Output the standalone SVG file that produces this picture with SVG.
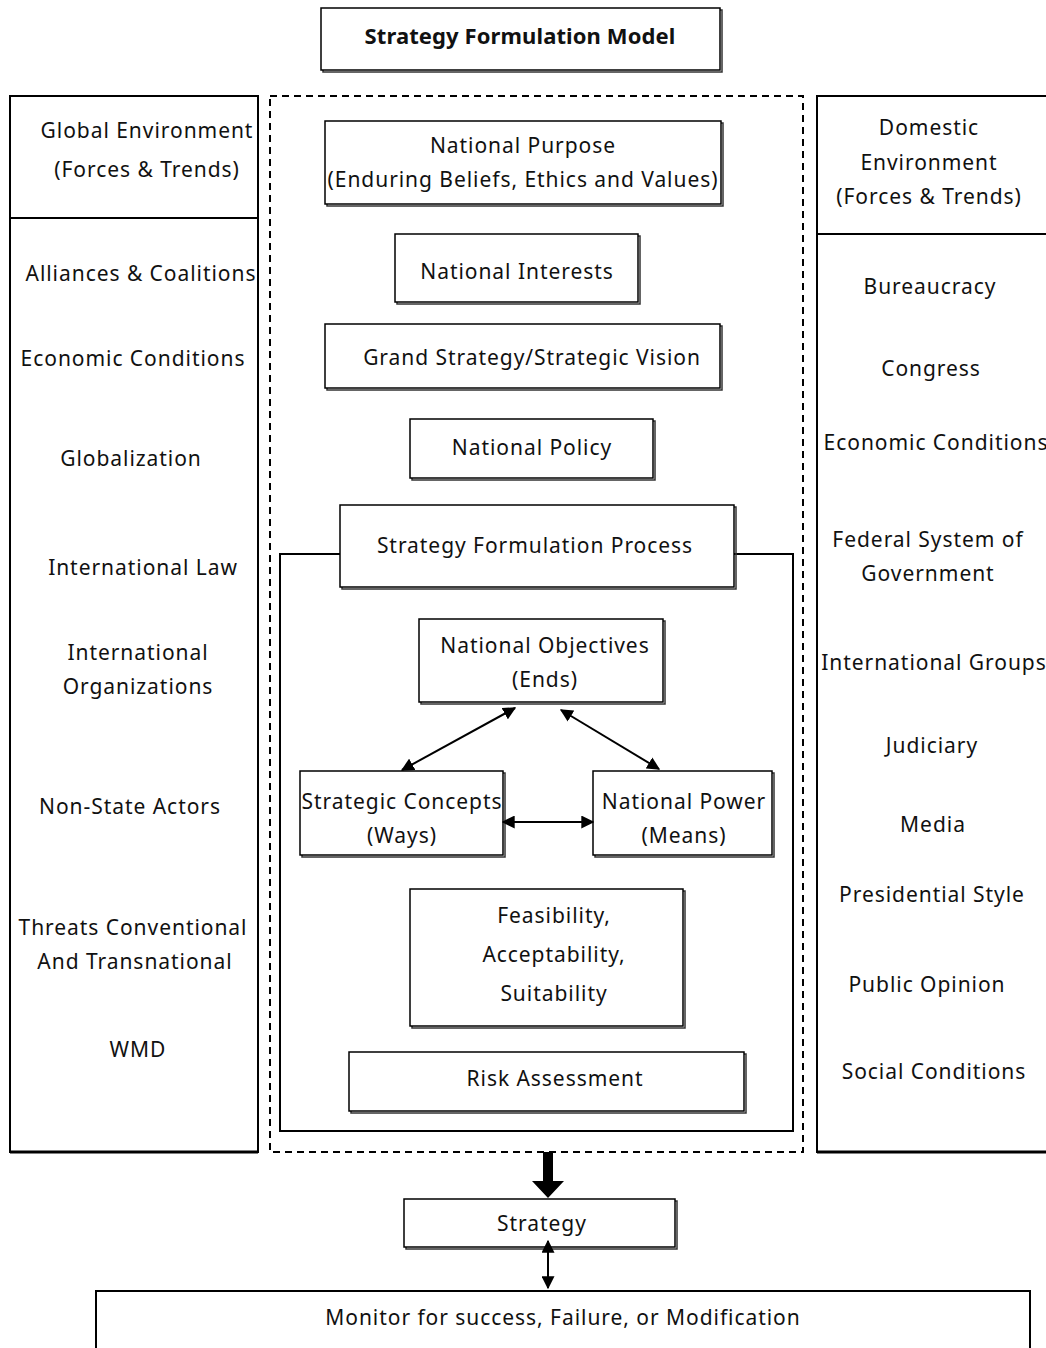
<svg xmlns="http://www.w3.org/2000/svg" width="1046" height="1348" viewBox="0 0 1046 1348">
<style>
text{font-family:"Noto Sans","Open Sans","Liberation Sans",sans-serif;font-size:21px;fill:#111;text-anchor:middle;letter-spacing:0.95px}
.b{fill:#fff;stroke:#000;stroke-width:1.5}
.sh{fill:none;stroke:#333;stroke-width:1.5}
.dash{fill:none;stroke:#000;stroke-width:2;stroke-dasharray:7,5}
.col{fill:#fff;stroke:#000;stroke-width:2}
.ln{stroke:#000;stroke-width:2;fill:none}
.title{font-weight:bold;font-size:22px;letter-spacing:0.1px}
</style>
<defs>
<marker id="ah" viewBox="0 0 10 10" refX="9" refY="5" markerWidth="13" markerHeight="13" markerUnits="userSpaceOnUse" orient="auto-start-reverse">
<path d="M0,0 L10,5 L0,10 z" fill="#000"/>
</marker>
</defs>
<rect width="1046" height="1348" fill="#fff"/>

<g id="title">
<rect x="323" y="10" width="399" height="62" class="sh"/>
<rect x="321" y="8" width="399" height="62" class="b"/>
<text x="520" y="44" class="title">Strategy Formulation Model</text>
</g>

<g id="global-env">
<rect x="10" y="96" width="248" height="1056" class="col"/>
<line x1="10" y1="218" x2="258" y2="218" class="ln"/>
<line x1="10" y1="1152" x2="258" y2="1152" stroke="#000" stroke-width="3"/>
<text x="147" y="138">Global Environment</text>
<text x="147" y="177">(Forces &amp; Trends)</text>
<text x="141" y="281">Alliances &amp; Coalitions</text>
<text x="133" y="366">Economic Conditions</text>
<text x="131" y="466">Globalization</text>
<text x="143" y="575">International Law</text>
<text x="138" y="660">International</text>
<text x="138" y="694">Organizations</text>
<text x="130" y="814">Non-State Actors</text>
<text x="133" y="935">Threats Conventional</text>
<text x="135" y="969">And Transnational</text>
<text x="138" y="1057">WMD</text>
</g>

<g id="domestic-env">
<rect x="817" y="96" width="240" height="1056" class="col"/>
<line x1="817" y1="234" x2="1046" y2="234" class="ln"/>
<line x1="817" y1="1152" x2="1046" y2="1152" stroke="#000" stroke-width="3"/>
<text x="929" y="135">Domestic</text>
<text x="929" y="170">Environment</text>
<text x="929" y="204">(Forces &amp; Trends)</text>
<text x="930" y="294">Bureaucracy</text>
<text x="931" y="376">Congress</text>
<text x="936" y="450">Economic Conditions</text>
<text x="928" y="547">Federal System of</text>
<text x="928" y="581">Government</text>
<text x="934" y="670">International Groups</text>
<text x="932" y="753">Judiciary</text>
<text x="933" y="832">Media</text>
<text x="932" y="902">Presidential Style</text>
<text x="927" y="992">Public Opinion</text>
<text x="934" y="1079">Social Conditions</text>
</g>

<g id="formulation-frame">
<rect x="270" y="96" width="533" height="1056" class="dash"/>
</g>

<g id="national-purpose">
<rect x="327" y="123" width="396" height="83" class="sh"/>
<rect x="325" y="121" width="396" height="83" class="b"/>
<text x="523" y="153">National Purpose</text>
<text x="523" y="187">(Enduring Beliefs, Ethics and Values)</text>
</g>

<g id="national-interests">
<rect x="397" y="236" width="243" height="68" class="sh"/>
<rect x="395" y="234" width="243" height="68" class="b"/>
<text x="517" y="279">National Interests</text>
</g>

<g id="grand-strategy">
<rect x="327" y="326" width="395" height="64" class="sh"/>
<rect x="325" y="324" width="395" height="64" class="b"/>
<text x="532" y="365">Grand Strategy/Strategic Vision</text>
</g>

<g id="national-policy">
<rect x="412" y="421" width="243" height="59" class="sh"/>
<rect x="410" y="419" width="243" height="59" class="b"/>
<text x="532" y="455">National Policy</text>
</g>

<g id="process-frame">
<path d="M340,554 H280 V1131 H793 V554 H734" class="ln"/>
</g>

<g id="strategy-formulation-process">
<rect x="342" y="507" width="394" height="82" class="sh"/>
<rect x="340" y="505" width="394" height="82" class="b"/>
<text x="535" y="553">Strategy Formulation Process</text>
</g>

<g id="national-objectives">
<rect x="421" y="621" width="244" height="83" class="sh"/>
<rect x="419" y="619" width="244" height="83" class="b"/>
<text x="545" y="653">National Objectives</text>
<text x="545" y="687">(Ends)</text>
</g>

<g id="strategic-concepts">
<rect x="302" y="773" width="203" height="84" class="sh"/>
<rect x="300" y="771" width="203" height="84" class="b"/>
<text x="402" y="809">Strategic Concepts</text>
<text x="402" y="843">(Ways)</text>
</g>

<g id="national-power">
<rect x="595" y="773" width="179" height="84" class="sh"/>
<rect x="593" y="771" width="179" height="84" class="b"/>
<text x="684" y="809">National Power</text>
<text x="684" y="843">(Means)</text>
</g>

<g id="feasibility">
<rect x="412" y="891" width="273" height="137" class="sh"/>
<rect x="410" y="889" width="273" height="137" class="b"/>
<text x="554" y="923">Feasibility,</text>
<text x="554" y="962">Acceptability,</text>
<text x="554" y="1001">Suitability</text>
</g>

<g id="risk-assessment">
<rect x="351" y="1054" width="395" height="59" class="sh"/>
<rect x="349" y="1052" width="395" height="59" class="b"/>
<text x="555" y="1086">Risk Assessment</text>
</g>

<g id="strategy">
<rect x="406" y="1201" width="271" height="48" class="sh"/>
<rect x="404" y="1199" width="271" height="48" class="b"/>
<text x="542" y="1231">Strategy</text>
</g>

<g id="monitor">
<path d="M96,1348 V1291 H1030 V1348" class="ln"/>
<text x="563" y="1325">Monitor for success, Failure, or Modification</text>
</g>

<g id="connectors">
<line x1="515" y1="708" x2="402" y2="770" class="ln" marker-start="url(#ah)" marker-end="url(#ah)"/>
<line x1="561" y1="710" x2="659" y2="769" class="ln" marker-start="url(#ah)" marker-end="url(#ah)"/>
<line x1="503" y1="822" x2="593" y2="822" class="ln" marker-start="url(#ah)" marker-end="url(#ah)"/>
<path d="M543,1152 H553 V1181 H564 L548,1198 L532,1181 H543 z" fill="#000"/>
<line x1="548" y1="1241" x2="548" y2="1288" class="ln" marker-start="url(#ah)" marker-end="url(#ah)"/>
</g>
</svg>
